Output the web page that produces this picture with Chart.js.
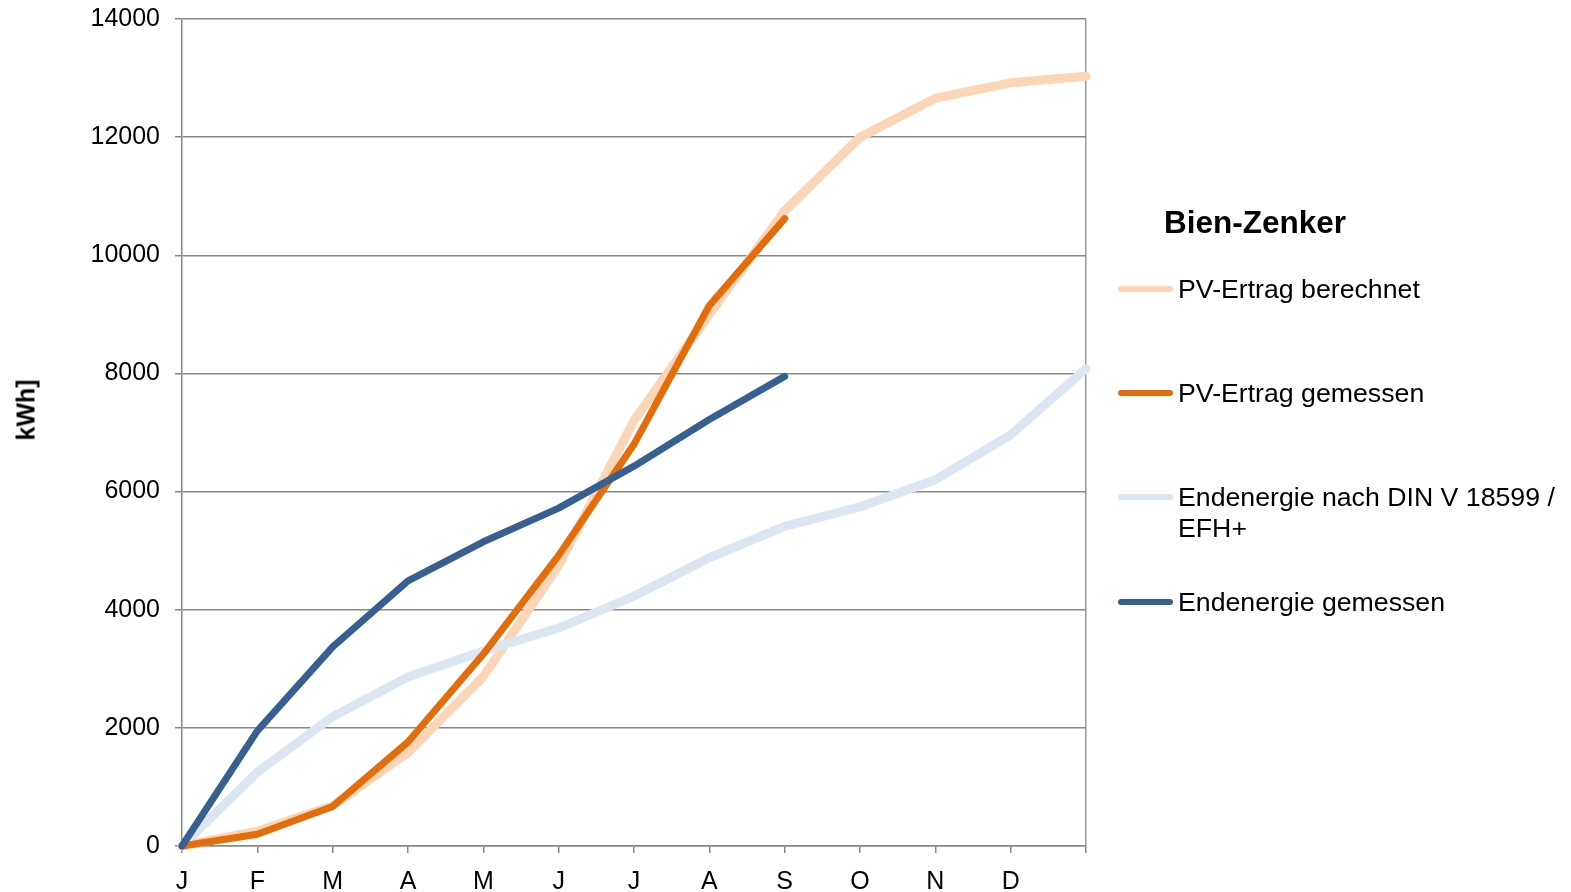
<!DOCTYPE html>
<html>
<head>
<meta charset="utf-8">
<script src="https://cdn.jsdelivr.net/npm/chart.js@4/dist/chart.umd.min.js"></script>
<style>
  html, body { margin: 0; padding: 0; background: #fff; }
  #wrap { position: relative; width: 1571px; height: 892px; overflow: hidden; }
  #myChart { position: absolute; left: 0; top: -11px; }
  #ytitle { position: absolute; left: 26px; top: 410px; transform: translate(-50%, -50%) rotate(-90deg);
            font: bold 25px "Liberation Sans", Arial, sans-serif; color: #000; white-space: nowrap; }
  #legend { position: absolute; left: 1118px; top: 0; font-family: "Liberation Sans", Arial, sans-serif; color: #000; }
  #legend h2 { position: absolute; left: 46px; top: 222px; transform: translateY(-50%); margin: 0; font-size: 31.5px; font-weight: bold; white-space: nowrap; line-height: 36px; }
  .item { position: absolute; left: 0; width: 450px; }
  .swatch { position: absolute; left: 0; width: 55px; height: 6px; border-radius: 3px; }
  .txt { position: absolute; left: 60px; width: 395px; font-size: 26.7px; line-height: 31px; }
</style>
</head>
<body>
<div id="wrap">
  <canvas id="myChart" width="1571" height="903"></canvas>
  <div id="ytitle"></div>
  <div id="legend"><h2 id="legend-title"></h2></div>
</div>
<script>
// --- DONNÉES ---
const months = ['J', 'F', 'M', 'A', 'M', 'J', 'J', 'A', 'S', 'O', 'N', 'D', ''];
const yTicks = [0, 2000, 4000, 6000, 8000, 10000, 12000, 14000];

const pvBerechnet = [0, 250, 680, 1580, 2870, 4750, 7200, 9000, 10750, 12000, 12660, 12920, 13030];
const pvGemessen = [0, 200, 670, 1760, 3250, 4920, 6800, 9150, 10620, null, null, null, null];
const endenergieDin = [0, 1250, 2190, 2860, 3300, 3690, 4230, 4880, 5410, 5740, 6200, 6960, 8080];
const endenergieGemessen = [0, 1950, 3370, 4490, 5150, 5720, 6430, 7220, 7950, null, null, null, null];

const seriesNames = ['PV-Ertrag berechnet', 'PV-Ertrag gemessen', 'Endenergie nach DIN V 18599 / EFH+', 'Endenergie gemessen'];
const seriesColors = ['#FBD5B5', '#E46C0A', '#DCE6F2', '#376092'];
const legendTitle = 'Bien-Zenker';
const yTitle = 'kWh]';

const FONT = '"Liberation Sans", Arial, sans-serif';

// --- GRAPHIQUE ---
const seriesData = [pvBerechnet, pvGemessen, endenergieDin, endenergieGemessen];
const widths = [9, 7, 9, 7];
const drawOrder = [4, 2, 3, 1]; // petit = dessus

const datasets = seriesData.map((data, i) => ({
    label: seriesNames[i],
    data: data,
    borderColor: seriesColors[i],
    backgroundColor: seriesColors[i],
    borderWidth: widths[i],
    pointRadius: 0,
    borderCapStyle: 'round',
    borderJoinStyle: 'round',
    tension: 0,
    spanGaps: false,
    clip: false,
    order: drawOrder[i]
}));

const ctx = document.getElementById('myChart').getContext('2d');
const chart = new Chart(ctx, {
    type: 'line',
    data: { labels: months, datasets },
    options: {
        responsive: false,
        animation: false,
        layout: { padding: { top: 0, right: 485, bottom: 0, left: 0 } },
        plugins: { legend: { display: false }, tooltip: { enabled: false } },
        scales: {
            x: {
                offset: false,
                grid: {
                    drawOnChartArea: true,
                    color: c => (c.index === months.length - 1 ? '#999' : 'rgba(0,0,0,0)'),
                    tickColor: '#888',
                    tickLength: 7,
                    lineWidth: 1.5
                },
                border: { color: '#888', width: 1.5 },
                ticks: { color: '#000', font: { family: FONT, size: 25 }, padding: 14, maxRotation: 0, autoSkip: false },
                afterFit: s => { s.height = 46; }
            },
            y: {
                min: 0,
                max: 14000,
                afterBuildTicks: s => { s.ticks = yTicks.map(v => ({ value: v })); },
                grid: { color: '#888', lineWidth: 1.5, tickLength: 7, tickColor: '#888' },
                border: { color: '#888', width: 1.5 },
                ticks: { color: '#000', font: { family: FONT, size: 25 }, padding: 15, callback: v => String(v) },
                afterFit: s => { s.width = 182; }
            }
        }
    }
});

// --- TITRE Y ---
document.getElementById('ytitle').textContent = yTitle;

// --- LÉGENDE ---
const legendEl = document.getElementById('legend');
document.getElementById('legend-title').textContent = legendTitle;
const itemCenters = [289, 393, 497, 602];
seriesNames.forEach((name, i) => {
    const item = document.createElement('div');
    item.className = 'item';
    item.style.top = (itemCenters[i] - 15) + 'px';
    item.innerHTML = `<div class="swatch" style="top:12px;background:${seriesColors[i]}"></div><div class="txt">${name}</div>`;
    legendEl.appendChild(item);
});
</script>
</body>
</html>
